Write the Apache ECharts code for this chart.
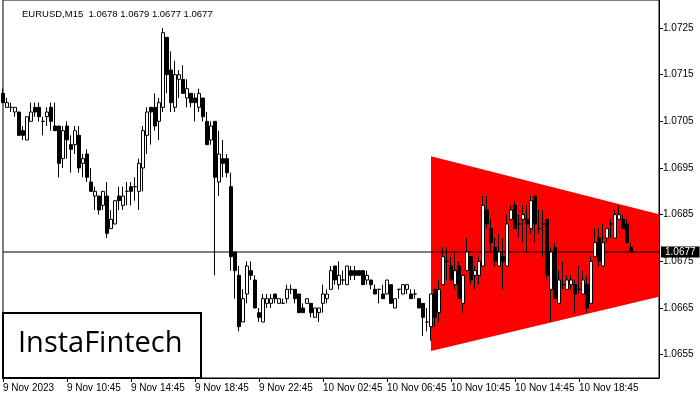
<!DOCTYPE html>
<html>
<head>
<meta charset="utf-8">
<script src="https://cdn.jsdelivr.net/npm/echarts@6/dist/echarts.min.js"></script>
<style>html,body{margin:0;padding:0;background:#fff}#c{width:700px;height:400px}</style>
</head>
<body>
<div id="c"></div>
<script>
// ---- data ----
const symbolTitle = 'EURUSD,M15';
const xTickLabels = ['9 Nov 2023','9 Nov 10:45','9 Nov 14:45','9 Nov 18:45','9 Nov 22:45','10 Nov 02:45','10 Nov 06:45','10 Nov 10:45','10 Nov 14:45','10 Nov 18:45'];
const barsPerLabel = 16;
const emptySlotsRight = 7;
const yTickLabels = ['1.0655','1.0665','1.0675','1.0685','1.0695','1.0705','1.0715','1.0725'];

const opens = [1.0711,1.0708,1.0708,1.0707,1.0707,1.0703,1.0701,1.0705,1.0708,1.0708,
1.0705,1.0706,1.0708,1.0704,1.0704,1.0697,1.0704,1.0700,1.0700,1.0702,
1.0696,1.0698,1.0692,1.0689,1.0689,1.0687,1.0689,1.0682,1.0683,1.0689,
1.0687,1.0690,1.0691,1.0691,1.0690,1.0695,1.0702,1.0708,1.0708,1.0705,
1.0708,1.0723,1.0716,1.0708,1.0714,1.0714,1.0710,1.0711,1.0710,1.0708,
1.0710,1.0705,1.0701,1.0705,1.0692,1.0697,1.0697,1.0691,1.0677,1.0672,
1.0662,1.0668,1.0673,1.0671,1.0664,1.0662,1.0666,1.0666,1.0668,1.0666,
1.0666,1.0667,1.0669,1.0669,1.0668,1.0665,1.0666,1.0666,1.0663,1.0664,
1.0666,1.0667,1.0669,1.0674,1.0670,1.0671,1.0670,1.0673,1.0673,1.0673,
1.0673,1.0671,1.0671,1.0669,1.0669,1.0668,1.0668,1.0670,1.0665,1.0669,
1.0668,1.0669,1.0668,1.0668,1.0667,1.0666,1.0662,1.0661,1.0669,1.0664,
1.0670,1.0675,1.0674,1.0670,1.0674,1.0666,1.0673,1.0676,1.0672,1.0672,
1.0674,1.0686,1.0682,1.0678,1.0674,1.0676,1.0674,1.0684,1.0687,1.0683,
1.0684,1.0684,1.0682,1.0689,1.0682,1.0683,1.0684,1.0669,1.0678,1.0666,
1.0670,1.0669,1.0670,1.0670,1.0669,1.0668,1.0670,1.0666,1.0676,1.0680,
1.0674,1.0680,1.0683,1.0680,1.0684,1.0684,1.0683,1.0678];
const highs = [1.0712,1.0710,1.0709,1.0708,1.0707,1.0704,1.0706,1.0709,1.0709,1.0709,
1.0706,1.0708,1.0709,1.0709,1.0704,1.0704,1.0705,1.0702,1.0704,1.0704,
1.0698,1.0699,1.0695,1.0691,1.0689,1.0690,1.0692,1.0686,1.0688,1.0691,
1.0691,1.0692,1.0692,1.0693,1.0697,1.0704,1.0708,1.0708,1.0711,1.0710,
1.0725,1.0723,1.0720,1.0718,1.0716,1.0717,1.0714,1.0711,1.0711,1.0712,
1.0710,1.0707,1.0705,1.0705,1.0703,1.0701,1.0698,1.0694,1.0677,1.0674,
1.0669,1.0675,1.0675,1.0672,1.0665,1.0668,1.0668,1.0668,1.0668,1.0667,
1.0667,1.0670,1.0670,1.0669,1.0668,1.0666,1.0667,1.0666,1.0665,1.0665,
1.0670,1.0669,1.0674,1.0674,1.0675,1.0673,1.0674,1.0674,1.0674,1.0673,
1.0673,1.0673,1.0671,1.0670,1.0669,1.0670,1.0671,1.0670,1.0667,1.0669,
1.0670,1.0670,1.0669,1.0669,1.0667,1.0666,1.0665,1.0668,1.0669,1.0671,
1.0678,1.0678,1.0676,1.0677,1.0675,1.0672,1.0680,1.0676,1.0674,1.0676,
1.0689,1.0689,1.0684,1.0680,1.0681,1.0680,1.0685,1.0687,1.0688,1.0685,
1.0687,1.0687,1.0689,1.0689,1.0686,1.0686,1.0684,1.0678,1.0679,1.0673,
1.0675,1.0672,1.0672,1.0671,1.0674,1.0673,1.0672,1.0676,1.0682,1.0682,
1.0683,1.0682,1.0684,1.0686,1.0687,1.0685,1.0684,1.0679];
const lows = [1.0709,1.0708,1.0707,1.0706,1.0702,1.0701,1.0701,1.0705,1.0706,1.0705,
1.0702,1.0704,1.0703,1.0703,1.0693,1.0695,1.0697,1.0694,1.0698,1.0694,
1.0693,1.0692,1.0690,1.0686,1.0685,1.0686,1.0680,1.0682,1.0683,1.0686,
1.0686,1.0687,1.0687,1.0688,1.0686,1.0690,1.0698,1.0700,1.0703,1.0701,
1.0707,1.0711,1.0707,1.0707,1.0710,1.0711,1.0708,1.0708,1.0705,1.0707,
1.0705,1.0700,1.0700,1.0672,1.0689,1.0693,1.0693,1.0673,1.0667,1.0660,
1.0662,1.0666,1.0671,1.0665,1.0662,1.0662,1.0665,1.0665,1.0666,1.0666,
1.0666,1.0666,1.0668,1.0666,1.0664,1.0664,1.0666,1.0663,1.0663,1.0662,
1.0664,1.0666,1.0669,1.0670,1.0669,1.0670,1.0670,1.0671,1.0671,1.0672,
1.0670,1.0670,1.0669,1.0668,1.0666,1.0667,1.0668,1.0666,1.0665,1.0667,
1.0668,1.0668,1.0667,1.0667,1.0665,1.0659,1.0660,1.0658,1.0661,1.0662,
1.0670,1.0671,1.0671,1.0669,1.0667,1.0664,1.0673,1.0670,1.0669,1.0670,
1.0674,1.0682,1.0677,1.0674,1.0674,1.0669,1.0674,1.0684,1.0682,1.0680,
1.0679,1.0677,1.0681,1.0679,1.0681,1.0676,1.0671,1.0662,1.0667,1.0666,
1.0669,1.0669,1.0669,1.0664,1.0668,1.0668,1.0664,1.0666,1.0676,1.0674,
1.0674,1.0679,1.0680,1.0680,1.0684,1.0682,1.0679,1.0677];
const closes = [1.0709,1.0709,1.0708,1.0708,1.0702,1.0702,1.0706,1.0707,1.0707,1.0706,
1.0705,1.0707,1.0705,1.0703,1.0696,1.0703,1.0701,1.0699,1.0703,1.0695,
1.0697,1.0693,1.0690,1.0690,1.0686,1.0690,1.0681,1.0684,1.0688,1.0688,
1.0689,1.0690,1.0690,1.0691,1.0696,1.0703,1.0707,1.0707,1.0704,1.0709,
1.0724,1.0715,1.0709,1.0715,1.0715,1.0711,1.0712,1.0709,1.0709,1.0711,
1.0706,1.0700,1.0704,1.0693,1.0698,1.0696,1.0694,1.0676,1.0673,1.0661,
1.0667,1.0674,1.0672,1.0665,1.0663,1.0667,1.0667,1.0667,1.0667,1.0667,
1.0666,1.0669,1.0669,1.0667,1.0664,1.0664,1.0667,1.0664,1.0665,1.0665,
1.0668,1.0668,1.0673,1.0671,1.0672,1.0671,1.0674,1.0672,1.0672,1.0672,
1.0670,1.0672,1.0670,1.0668,1.0669,1.0667,1.0671,1.0666,1.0667,1.0669,
1.0670,1.0670,1.0667,1.0668,1.0665,1.0663,1.0662,1.0668,1.0663,1.0669,
1.0676,1.0675,1.0671,1.0673,1.0667,1.0672,1.0677,1.0671,1.0673,1.0675,
1.0687,1.0683,1.0679,1.0675,1.0677,1.0675,1.0683,1.0686,1.0682,1.0683,
1.0685,1.0683,1.0688,1.0683,1.0682,1.0683,1.0672,1.0677,1.0667,1.0671,
1.0670,1.0671,1.0671,1.0668,1.0669,1.0671,1.0665,1.0675,1.0679,1.0675,
1.0679,1.0682,1.0683,1.0685,1.0685,1.0682,1.0679,1.0677];

// triangle pattern (bar index, price)
const triangleBars = [107, 164, 164, 107];
const trianglePrices = [1.06975, 1.06851, 1.06674, 1.06558];

const priceMin = 1.0650;
const priceMax = 1.0731;

// ---- build ----
const nBars = opens.length;
const categories = [];
for (let i = 0; i < nBars + emptySlotsRight; i++) categories.push(String(i));
const candleData = opens.map((o, i) => [o, closes[i], lows[i], highs[i]]);
const triData = triangleBars.map((b, i) => [b, trianglePrices[i]]);
const lastBar = nBars - 1;
const lastClose = closes[lastBar];
const priceLineData = categories.map(() => lastClose);
const yTickValues = yTickLabels.map(Number);
const showTick = (idx) => idx % barsPerLabel === 0 && idx / barsPerLabel < xTickLabels.length;

const chart = echarts.init(document.getElementById('c'), null, {renderer: 'canvas'});
const FONT = 'Liberation Sans';
chart.setOption({
  animation: false,
  backgroundColor: '#fff',
  title: {
    text: symbolTitle + '  ' + [opens[lastBar], highs[lastBar], lows[lastBar], closes[lastBar]].map(v => v.toFixed(4)).join(' '),
    left: 17, top: 4,
    textStyle: {fontFamily: FONT, fontSize: 9.5, fontWeight: 'normal', color: '#000'}
  },
  grid: {left: 3, right: 41, top: -1, bottom: 22, show: true, borderColor: '#000', borderWidth: 1, backgroundColor: 'transparent'},
  xAxis: {
    type: 'category', data: categories, boundaryGap: false,
    axisLine: {show: true, lineStyle: {color: '#000', width: 1}},
    axisTick: {show: true, interval: (idx) => showTick(idx), length: 4, lineStyle: {color: '#000'}},
    axisLabel: {
      show: true, interval: (idx) => showTick(idx), align: 'left', margin: 5,
      fontFamily: FONT, fontSize: 10, color: '#000',
      formatter: (v) => xTickLabels[Math.round(Number(v) / barsPerLabel)] || ''
    },
    splitLine: {show: false}
  },
  yAxis: {
    type: 'value', position: 'right', min: priceMin, max: priceMax, scale: true,
    axisLine: {show: true, lineStyle: {color: '#000', width: 1}},
    axisTick: {show: true, length: 4, customValues: yTickValues, lineStyle: {color: '#000'}},
    axisLabel: {show: true, customValues: yTickValues, margin: 4, fontFamily: FONT, fontSize: 10, color: '#000',
      formatter: (v) => Number(v).toFixed(4)},
    splitLine: {show: false}
  },
  series: [
    {
      type: 'custom', z: 1, silent: true,
      data: triData,
      encode: {x: 0, y: 1},
      renderItem: (params, api) => {
        if (params.dataIndex !== 0) return null;
        const pts = triData.map(d => api.coord(d));
        return {type: 'polygon', shape: {points: pts}, style: {fill: '#ff0000', stroke: null}};
      }
    },
    {
      type: 'line', z: 2, silent: true, showSymbol: false, symbol: 'none',
      data: priceLineData,
      lineStyle: {color: '#000', width: 1},
      endLabel: {show: true, distance: 2, formatter: () => lastClose.toFixed(4),
        color: '#fff', backgroundColor: '#000', padding: [1, 4, 0, 4], fontFamily: FONT, fontSize: 10}
    },
    {
      type: 'candlestick', z: 3,
      data: candleData,
      barWidth: 3,
      itemStyle: {color: '#fff', color0: '#000', borderColor: '#000', borderColor0: '#000', borderColorDoji: '#000', borderWidth: 1}
    }
  ],
  graphic: [
    {type: 'rect', left: 2, top: 312, z: 10, shape: {width: 198, height: 65}, style: {fill: '#fff', stroke: '#000', lineWidth: 2}},
    {type: 'text', left: 18, top: 329, z: 11, style: {text: 'InstaFintech', fontFamily: 'Open Sans', fontSize: 29, fontWeight: 500, fill: '#000'}}
  ]
});
</script>
</body>
</html>
